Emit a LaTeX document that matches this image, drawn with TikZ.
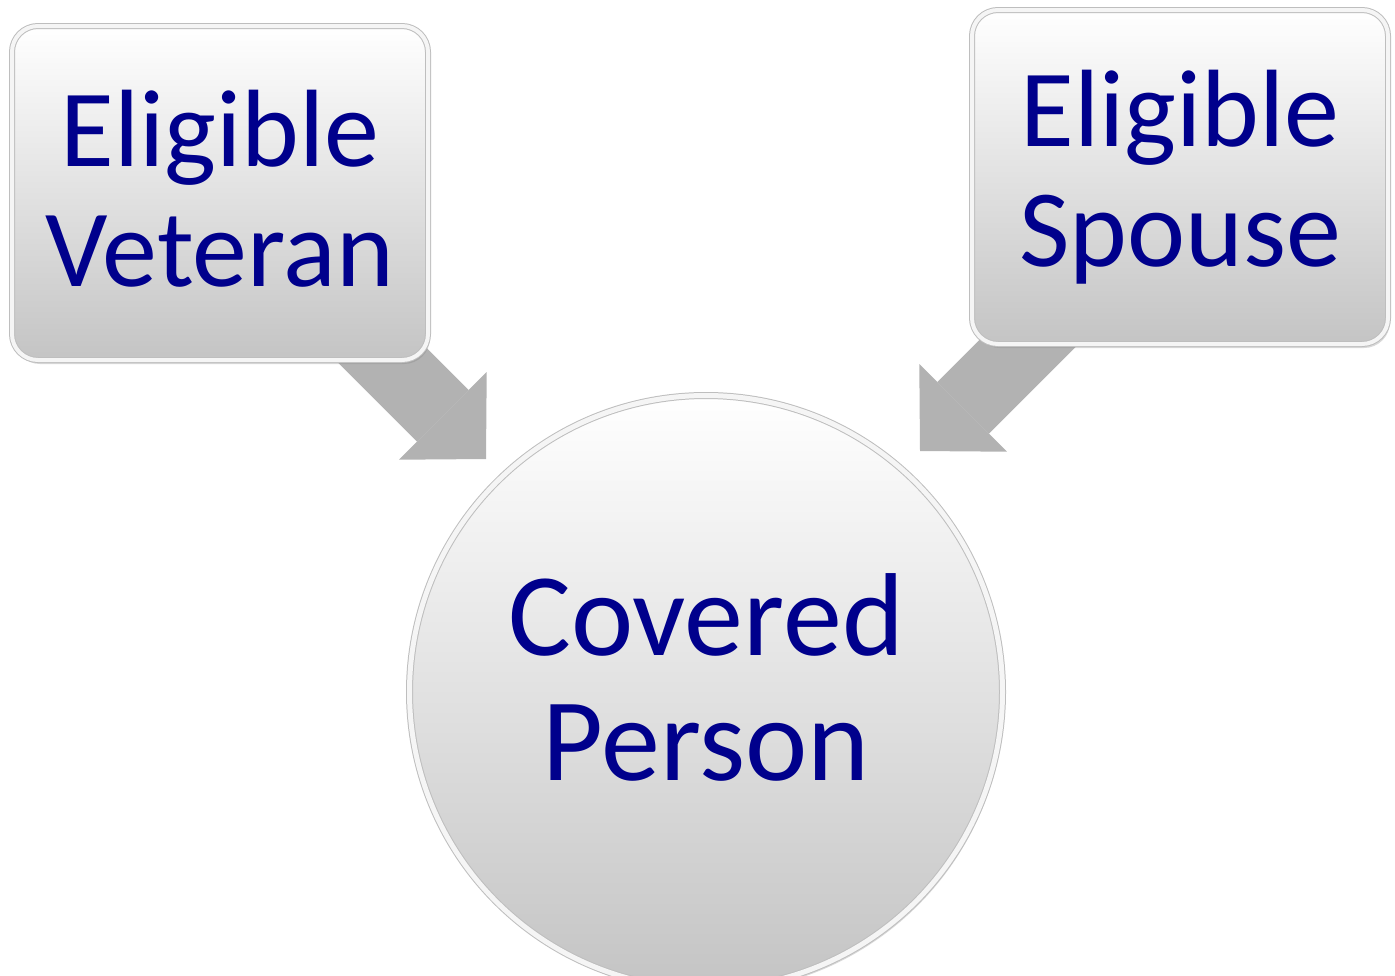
\documentclass[tikz,border=0pt]{standalone}
\usepackage{fontspec}
\setmainfont{Carlito}
\usetikzlibrary{calc}
\usetikzlibrary{arrows.meta,shadows,backgrounds}
\definecolor{cus-navy}{RGB}{0,0,140}
\definecolor{cus-arrow}{RGB}{178,178,178}
\definecolor{cus-edge}{RGB}{190,190,190}
\definecolor{cus-low}{RGB}{196,196,196}

\begin{document}
\begin{tikzpicture}[x=1pt, y=-1pt,
	card/.style={rounded corners=26pt, minimum width=416pt, minimum height=334pt,
		top color=white, bottom color=cus-low, draw=cus-edge, line width=1pt,
		double=white!96!black, double distance=4pt,
		drop shadow={shadow xshift=2pt, shadow yshift=-4pt, opacity=.3},
		text=cus-navy, align=center, font=\fontsize{110}{120}\selectfont},
	ball/.style={circle, minimum size=593pt, inner sep=0pt,
		top color=white, bottom color=cus-low, draw=cus-edge, line width=1pt,
		double=white!96!black, double distance=5pt,
		drop shadow={shadow xshift=2pt, shadow yshift=-4pt, opacity=.3},
		text=cus-navy, align=center, font=\fontsize{118}{125}\selectfont},
	fat/.style={draw=cus-arrow, line width=73pt,
		-{Triangle[length=61pt, width=124pt, line width=0pt, fill=cus-arrow]}}]
\useasboundingbox (0,0) rectangle (1395,975);
\node[card] (vet) at (220,193) {Eligible\\Veteran\rule[-10pt]{0pt}{10pt}};
\node[card] (spo) at (1180,177) {Eligible\\Spouse};
\node[ball] (cov) at (706,692) {Covered\\Person\rule[-30pt]{0pt}{30pt}};
\coordinate (tipL) at (486,459);
\coordinate (tipR) at (920,451);
\begin{scope}[on background layer]
\foreach \from/\dy/\to in {vet/0/tipL, spo/14/tipR}{
	\draw [fat] ($(\from.center)+(0,\dy)$) -- (\to);
}
\end{scope}
\end{tikzpicture}
\end{document}
